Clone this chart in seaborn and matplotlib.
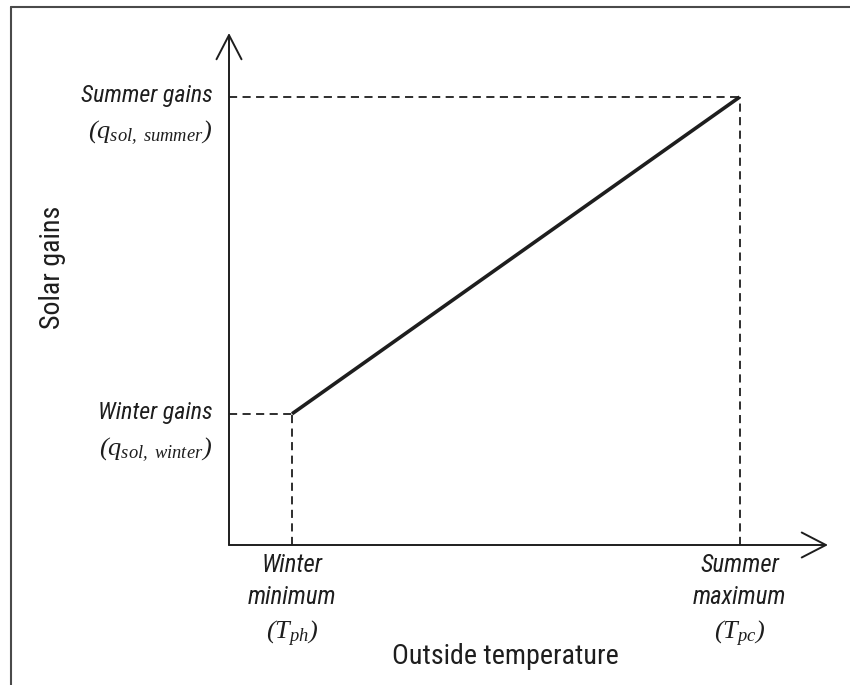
import os
import matplotlib
matplotlib.use("Agg")
import matplotlib.pyplot as plt
from matplotlib.lines import Line2D
from matplotlib import font_manager as fm
import seaborn as sns
import pandas as pd

# ---- data (schematic) ----
temp_labels = ["Winter\nminimum", "Summer\nmaximum"]
temp_symbols = [r"$(T_{ph})$", r"$(T_{pc})$"]
gain_labels = ["Winter gains", "Summer gains"]
gain_symbols = [r"$(q_{sol,\ winter})$", r"$(q_{sol,\ summer})$"]
temps = [1.0, 8.1]
gains = [2.05, 7.0]
x_label = "Outside temperature"
y_label = "Solar gains"

sns.set_theme(style="white")
plt.rcParams["font.family"] = ["Liberation Sans", "DejaVu Sans"]
plt.rcParams["mathtext.fontset"] = "custom"
plt.rcParams["mathtext.rm"] = "Liberation Serif:italic"
plt.rcParams["mathtext.it"] = "Liberation Serif:italic"


def is_condensed(e):
    b = os.path.basename(e.fname).lower()
    n = e.name.lower()
    return ("narrow" in b or "condensed" in b or "narrow" in n
            or "condensed" in n or "condensed" in str(e.stretch).lower())


def is_bold(e):
    w = e.weight
    try:
        return int(w) >= 600
    except (TypeError, ValueError):
        return "bold" in str(w).lower() or "black" in str(w).lower()


prefs = ["liberationsansnarrow", "robotocondensed", "dejavusanscondensed",
         "opensans_condensed", "opensanscondensed", ""]
regular = italic = None
for key in prefs:
    cands = [e for e in fm.fontManager.ttflist if is_condensed(e)
             and key in os.path.basename(e.fname).lower().replace("-", "")
             and not is_bold(e)]
    reg = [e for e in cands if e.style == "normal"
           and "light" not in os.path.basename(e.fname).lower()
           and "semi" not in os.path.basename(e.fname).lower()]
    ita = [e for e in cands if e.style in ("italic", "oblique")
           and "light" not in os.path.basename(e.fname).lower()
           and "semi" not in os.path.basename(e.fname).lower()]
    if reg:
        regular = reg[0].fname
        italic = ita[0].fname if ita else reg[0].fname
        break


def fp(size, it=False):
    if regular is None:
        return fm.FontProperties(family=["Liberation Sans"], size=size,
                                 style="italic" if it else "normal")
    return fm.FontProperties(fname=italic if it else regular, size=size)


ink = "#1e1e1e"
fig = plt.figure(figsize=(8.5, 6.85), dpi=100)
ax = fig.add_axes([229 / 850, 140 / 685, 599 / 850, 512 / 685])
ax.set_xlim(0, 9.5)
ax.set_ylim(0, 8)
for s in ax.spines.values():
    s.set_visible(False)
ax.set_xticks([])
ax.set_yticks([])
ax.patch.set_alpha(0)

df = pd.DataFrame({"temp": temps, "gain": gains})
sns.lineplot(data=df, x="temp", y="gain", ax=ax, color=ink, lw=2.6,
             solid_capstyle="butt")
ax.set_xlabel("")
ax.set_ylabel("")

dash = (0, (4.5, 3.0))
for t, g in zip(temps, gains):
    ax.plot([0, t], [g, g], ls=dash, color=ink, lw=1.3)
    ax.plot([t, t], [0, g], ls=dash, color=ink, lw=1.3)

arrow = dict(arrowstyle="->,head_length=1.45,head_width=0.75", lw=1.4,
             color=ink, shrinkA=0, shrinkB=0)
ax.annotate("", xy=(1, 0), xytext=(0, 0), xycoords="axes fraction",
            textcoords="axes fraction", arrowprops=arrow)
ax.annotate("", xy=(0, 1), xytext=(0, 0), xycoords="axes fraction",
            textcoords="axes fraction", arrowprops=arrow)

# y category labels
for g, lab, sym in zip(gains, gain_labels, gain_symbols):
    ax.annotate(lab, xy=(0, g), xycoords=("axes fraction", "data"),
                xytext=(-12, 1), textcoords="offset points", ha="right",
                va="center", fontproperties=fp(17.3, True), color=ink)
    ax.annotate(sym, xy=(0, g), xycoords=("axes fraction", "data"),
                xytext=(-12, -26), textcoords="offset points", ha="right",
                va="center", fontsize=19, color=ink)

# x category labels
for t, lab, sym in zip(temps, temp_labels, temp_symbols):
    ax.annotate(lab, xy=(t, 0), xycoords=("data", "axes fraction"),
                xytext=(0, -6), textcoords="offset points", ha="center",
                va="top", fontproperties=fp(17.8, True), color=ink,
                linespacing=1.42)
    ax.annotate(sym, xy=(t, 0), xycoords=("data", "axes fraction"),
                xytext=(0, -64), textcoords="offset points", ha="center",
                va="center", fontsize=19, color=ink)

fig.text(505 / 850, 1 - 657 / 685, x_label, ha="center", va="center",
         fontproperties=fp(20.2), color=ink)
fig.text(53 / 850, 1 - 267 / 685, y_label, ha="center", va="center",
         fontproperties=fp(20.2), rotation=90, color=ink)

# frame lines (top and left)
fig.add_artist(Line2D([11 / 850, 1], [1 - 6.5 / 685, 1 - 6.5 / 685],
                      transform=fig.transFigure, color="#4a4a4a", lw=1.5))
fig.add_artist(Line2D([11 / 850, 11 / 850], [0, 1 - 6.5 / 685],
                      transform=fig.transFigure, color="#4a4a4a", lw=1.5))

fig.savefig("out.png", dpi=100, facecolor="white")
